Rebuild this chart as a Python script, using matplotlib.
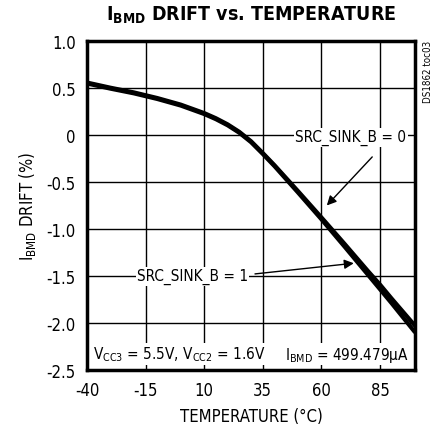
import matplotlib
matplotlib.use("Agg")
import matplotlib.pyplot as plt

plt.rcParams['font.family'] = ['DejaVu Sans']
plt.rcParams['font.stretch'] = 'condensed'
plt.rcParams['mathtext.fontset'] = 'custom'
plt.rcParams['axes.unicode_minus'] = False

# valores
temp = [-40, -30, -20, -10, 0, 5, 10, 15, 20, 25, 30, 35, 40, 50, 60, 70, 80, 85, 90, 100]
drift_b0 = [0.56, 0.505, 0.455, 0.395, 0.325, 0.28, 0.235, 0.18, 0.115, 0.035, -0.065,
            -0.19, -0.32, -0.595, -0.875, -1.16, -1.45, -1.59, -1.74, -2.03]
drift_b1 = [0.55, 0.495, 0.445, 0.385, 0.315, 0.27, 0.225, 0.17, 0.105, 0.025, -0.075,
            -0.20, -0.33, -0.61, -0.895, -1.19, -1.49, -1.64, -1.79, -2.10]
xticks = [-40, -15, 10, 35, 60, 85]
yticks = [1.0, 0.5, 0, -0.5, -1.0, -1.5, -2.0, -2.5]
ylabels = ['1.0', '0.5', '0', '-0.5', '-1.0', '-1.5', '-2.0', '-2.5']

fig = plt.figure(figsize=(4.37, 4.35), dpi=100)
ax = fig.add_axes([0.199, 0.147, 0.751, 0.756])

ax.plot(temp, drift_b0, color='black', lw=3, solid_capstyle='butt', zorder=3)
ax.plot(temp, drift_b1, color='black', lw=3, solid_capstyle='butt', zorder=3)

ax.set_xlim(-40, 100)
ax.set_ylim(-2.5, 1.0)
ax.set_xticks(xticks)
ax.set_yticks(yticks)
ax.set_yticklabels(ylabels)
ax.tick_params(length=0, labelsize=12, pad=8)
ax.grid(True, color='black', lw=1)
for s in ax.spines.values():
    s.set_linewidth(2.5)

caja = dict(facecolor='white', edgecolor='none', pad=1)
ax.text(72.5, -0.02, 'SRC_SINK_B = 0', fontsize=11, ha='center', va='center',
        bbox=caja, zorder=4)
ax.annotate('', xy=(61.5, -0.77), xytext=(82.5, -0.21),
            arrowprops=dict(arrowstyle='-|>', color='black', lw=1, mutation_scale=14),
            zorder=4)
ax.text(5, -1.5, 'SRC_SINK_B = 1', fontsize=11, ha='center', va='center',
        bbox=caja, zorder=4)
ax.annotate('', xy=(75, -1.36), xytext=(30.5, -1.48),
            arrowprops=dict(arrowstyle='-|>', color='black', lw=1, mutation_scale=14),
            zorder=4)

ax.text(-37.5, -2.33, r'V$_{\mathregular{CC3}}$ = 5.5V, V$_{\mathregular{CC2}}$ = 1.6V',
        fontsize=11, ha='left', va='center', bbox=caja, zorder=4)
ax.text(97.5, -2.33, r'I$_{\mathregular{BMD}}$ = 499.479$\mathregular{\mu}$A',
        fontsize=11, ha='right', va='center', bbox=caja, zorder=4)

ax.set_xlabel('TEMPERATURE (°C)', fontsize=12, labelpad=6)
ax.set_ylabel(r'I$_{\mathregular{BMD}}$ DRIFT (%)', fontsize=12, labelpad=6)

fig.text(0.575, 0.965, r'I$_{\mathregular{BMD}}$ DRIFT vs. TEMPERATURE',
         fontsize=14, fontweight='bold', ha='center', va='center')
fig.text(0.98, 0.835, 'DS1862 toc03', fontsize=7, rotation=90, ha='center', va='center')

fig.savefig('out.png', dpi=100)
